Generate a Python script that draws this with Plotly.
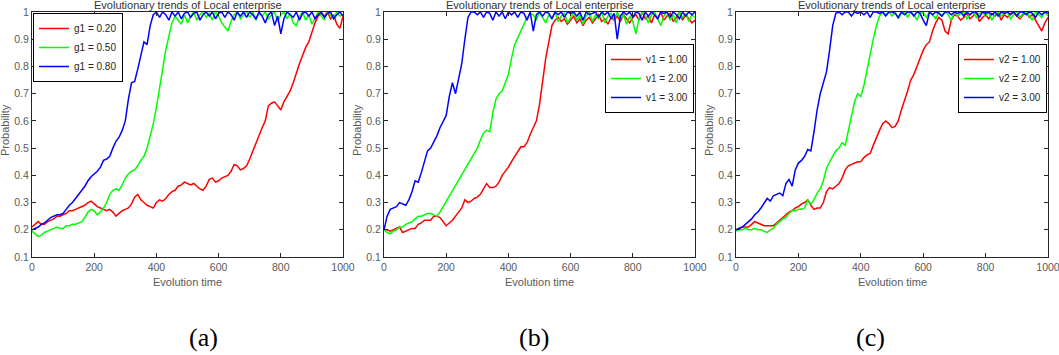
import plotly.graph_objects as go

# ---------------- data ----------------
TIME = list(range(0, 1001, 10))

LABELS_A = ["g1 = 0.20", "g1 = 0.50", "g1 = 0.80"]
LABELS_B = ["v1 = 1.00", "v1 = 2.00", "v1 = 3.00"]
LABELS_C = ["v2 = 1.00", "v2 = 2.00", "v2 = 3.00"]
CAPTIONS = ["(a)", "(b)", "(c)"]
X_TICKS = [0, 200, 400, 600, 800, 1000]
Y_TICKS = [0.1, 0.2, 0.3, 0.4, 0.5, 0.6, 0.7, 0.8, 0.9, 1.0]
Y_TICK_TEXT = ["0.1", "0.2", "0.3", "0.4", "0.5", "0.6", "0.7", "0.8", "0.9", "1"]

RED_A = [0.21, 0.22, 0.23, 0.22, 0.22, 0.23, 0.235, 0.24, 0.25, 0.25,
         0.255, 0.26, 0.27, 0.27, 0.275, 0.28, 0.285, 0.29, 0.30, 0.305,
         0.295, 0.285, 0.28, 0.275, 0.27, 0.275, 0.265, 0.25, 0.26, 0.27,
         0.275, 0.28, 0.295, 0.32, 0.33, 0.31, 0.30, 0.29, 0.285, 0.28,
         0.30, 0.31, 0.305, 0.315, 0.33, 0.34, 0.345, 0.36, 0.365, 0.375,
         0.37, 0.365, 0.37, 0.36, 0.35, 0.345, 0.36, 0.385, 0.39, 0.375,
         0.38, 0.39, 0.395, 0.40, 0.415, 0.44, 0.435, 0.42, 0.425, 0.435,
         0.46, 0.49, 0.52, 0.55, 0.575, 0.60, 0.655, 0.665, 0.67, 0.655,
         0.64, 0.67, 0.69, 0.71, 0.74, 0.78, 0.81, 0.84, 0.87, 0.89,
         0.93, 0.96, 0.985, 0.995, 0.985, 1.0, 0.975, 0.99, 0.955, 0.94,
         0.985]
GREEN_A = [0.195, 0.185, 0.175, 0.18, 0.19, 0.195, 0.20, 0.205, 0.21, 0.205,
           0.205, 0.215, 0.215, 0.22, 0.22, 0.225, 0.23, 0.245, 0.265, 0.275,
           0.27, 0.255, 0.265, 0.28, 0.30, 0.33, 0.345, 0.35, 0.345, 0.365,
           0.39, 0.405, 0.415, 0.42, 0.435, 0.455, 0.47, 0.50, 0.545, 0.59,
           0.65, 0.72, 0.79, 0.86, 0.91, 0.96, 0.985, 0.97, 0.955, 0.99,
           0.96, 0.985, 1.0, 0.97, 0.99, 1.0, 0.98, 0.995, 0.97, 1.0,
           0.985, 0.96, 0.945, 0.93, 0.965, 0.99, 1.0, 0.975, 0.99, 1.0,
           0.98, 1.0, 0.97, 0.995, 0.985, 1.0, 0.975, 0.99, 1.0, 0.965,
           0.99, 1.0, 0.975, 0.995, 0.96, 0.95, 0.985, 1.0, 0.97, 0.99,
           0.955, 0.98, 1.0, 0.985, 0.97, 1.0, 0.99, 0.975, 1.0, 0.985,
           0.99]
BLUE_A = [0.20, 0.205, 0.21, 0.22, 0.225, 0.235, 0.245, 0.25, 0.255, 0.255,
          0.26, 0.275, 0.29, 0.30, 0.315, 0.33, 0.345, 0.36, 0.38, 0.395,
          0.405, 0.415, 0.43, 0.455, 0.46, 0.47, 0.50, 0.525, 0.54, 0.565,
          0.60, 0.68, 0.74, 0.745, 0.79, 0.84, 0.89, 0.88, 0.95, 0.99,
          1.0, 0.98, 1.0, 0.99, 0.97, 1.0, 0.985, 1.0, 0.975, 0.995,
          1.0, 0.98, 0.995, 1.0, 0.97, 0.99, 1.0, 0.985, 1.0, 0.975,
          0.995, 1.0, 0.98, 1.0, 0.99, 0.97, 1.0, 0.985, 1.0, 0.98,
          1.0, 0.99, 0.975, 1.0, 0.985, 0.96, 0.99, 1.0, 0.95, 0.985,
          0.92, 0.975, 1.0, 0.99, 0.98, 1.0, 0.97, 0.995, 1.0, 0.985,
          1.0, 0.975, 0.99, 1.0, 0.98, 0.995, 1.0, 0.975, 0.99, 1.0,
          0.985]

RED_B = [0.20, 0.20, 0.195, 0.20, 0.205, 0.21, 0.19, 0.195, 0.20, 0.205,
         0.205, 0.22, 0.225, 0.235, 0.235, 0.235, 0.25, 0.25, 0.245, 0.23,
         0.215, 0.225, 0.235, 0.25, 0.265, 0.28, 0.31, 0.30, 0.305, 0.315,
         0.32, 0.33, 0.35, 0.37, 0.355, 0.355, 0.36, 0.375, 0.40, 0.415,
         0.43, 0.45, 0.47, 0.49, 0.505, 0.505, 0.52, 0.55, 0.575, 0.60,
         0.66, 0.75, 0.83, 0.89, 0.95, 0.97, 0.98, 0.965, 0.975, 0.955,
         0.97, 0.985, 0.96, 0.975, 0.95, 0.97, 0.98, 0.96, 0.975, 0.99,
         0.965, 0.975, 0.955, 0.98, 0.97, 0.985, 0.965, 0.99, 0.975, 0.96,
         0.98, 0.99, 0.97, 1.0, 0.975, 0.985, 0.96, 0.99, 0.975, 1.0,
         0.97, 0.985, 0.995, 0.965, 0.98, 1.0, 0.97, 0.99, 0.975, 0.96,
         0.97]
GREEN_B = [0.20, 0.19, 0.185, 0.195, 0.20, 0.21, 0.21, 0.22, 0.225, 0.23,
           0.24, 0.25, 0.25, 0.255, 0.26, 0.26, 0.255, 0.25, 0.265, 0.285,
           0.30, 0.32, 0.345, 0.36, 0.38, 0.40, 0.425, 0.44, 0.465, 0.48,
           0.50, 0.53, 0.555, 0.565, 0.56, 0.63, 0.68, 0.70, 0.71, 0.74,
           0.77, 0.83, 0.88, 0.905, 0.93, 0.955, 0.98, 0.995, 0.99, 0.97,
           1.0, 0.98, 0.96, 0.99, 0.975, 1.0, 0.965, 0.985, 0.995, 0.96,
           0.98, 1.0, 0.97, 0.99, 0.955, 0.985, 1.0, 0.965, 0.99, 0.975,
           1.0, 0.96, 0.985, 0.995, 0.97, 1.0, 0.975, 0.99, 0.955, 0.985,
           0.965, 0.92, 0.975, 1.0, 0.985, 0.96, 0.99, 1.0, 0.975, 0.95,
           0.985, 1.0, 0.97, 0.99, 0.96, 1.0, 0.98, 0.995, 0.965, 0.99,
           0.98]
BLUE_B = [0.20, 0.25, 0.275, 0.28, 0.285, 0.30, 0.295, 0.29, 0.31, 0.34,
          0.38, 0.375, 0.41, 0.45, 0.49, 0.50, 0.52, 0.545, 0.575, 0.595,
          0.62, 0.69, 0.74, 0.70, 0.76, 0.81, 0.90, 0.98, 1.0, 1.0,
          0.99, 1.0, 0.98, 1.0, 0.995, 0.97, 1.0, 0.985, 1.0, 0.975,
          1.0, 0.99, 1.0, 0.98, 1.0, 0.995, 0.97, 1.0, 0.93, 0.99,
          1.0, 0.985, 1.0, 0.995, 0.975, 1.0, 0.99, 1.0, 0.98, 1.0,
          0.995, 1.0, 0.985, 1.0, 0.97, 1.0, 0.99, 0.995, 1.0, 0.98,
          1.0, 0.99, 1.0, 0.975, 0.995, 0.90, 0.985, 1.0, 0.99, 1.0,
          0.98, 1.0, 0.995, 0.97, 1.0, 0.985, 1.0, 0.99, 0.975, 1.0,
          0.995, 1.0, 0.98, 1.0, 0.99, 0.975, 1.0, 0.985, 1.0, 0.99,
          1.0]

RED_C = [0.20, 0.205, 0.21, 0.21, 0.21, 0.22, 0.23, 0.225, 0.22, 0.215,
         0.215, 0.215, 0.215, 0.225, 0.235, 0.245, 0.255, 0.265, 0.27, 0.28,
         0.285, 0.295, 0.30, 0.31, 0.29, 0.275, 0.28, 0.28, 0.30, 0.34,
         0.355, 0.35, 0.36, 0.37, 0.39, 0.42, 0.435, 0.44, 0.445, 0.45,
         0.45, 0.465, 0.475, 0.48, 0.51, 0.54, 0.565, 0.59, 0.60, 0.59,
         0.575, 0.58, 0.60, 0.64, 0.68, 0.71, 0.75, 0.77, 0.80, 0.83,
         0.86, 0.88, 0.89, 0.93, 0.96, 0.98, 0.97, 0.93, 0.92, 0.97,
         0.99, 0.985, 0.97, 0.98, 0.995, 0.975, 0.985, 1.0, 0.965, 0.98,
         0.99, 0.975, 0.995, 0.985, 1.0, 0.97, 0.99, 0.98, 0.995, 1.0,
         0.985, 0.975, 0.99, 1.0, 0.98, 0.99, 0.97, 0.95, 0.93, 0.96,
         0.98]
GREEN_C = [0.195, 0.20, 0.20, 0.205, 0.20, 0.20, 0.205, 0.20, 0.20, 0.195,
           0.19, 0.20, 0.205, 0.22, 0.23, 0.24, 0.245, 0.26, 0.27, 0.27,
           0.275, 0.275, 0.28, 0.31, 0.295, 0.31, 0.335, 0.35, 0.38, 0.425,
           0.45, 0.47, 0.49, 0.50, 0.52, 0.51, 0.56, 0.61, 0.67, 0.70,
           0.69, 0.73, 0.79, 0.85, 0.90, 0.95, 0.985, 1.0, 0.99, 1.0,
           0.985, 1.0, 0.975, 0.995, 1.0, 0.98, 1.0, 0.99, 0.97, 1.0,
           0.995, 0.98, 1.0, 0.99, 0.975, 1.0, 0.985, 1.0, 0.99, 0.97,
           1.0, 0.985, 0.995, 1.0, 0.975, 0.99, 1.0, 0.98, 0.995, 1.0,
           0.985, 1.0, 0.97, 0.99, 1.0, 0.985, 0.995, 1.0, 0.975, 0.99,
           1.0, 0.98, 0.995, 1.0, 0.985, 0.97, 1.0, 0.99, 0.98, 1.0,
           0.985]
BLUE_C = [0.20, 0.205, 0.21, 0.22, 0.23, 0.24, 0.255, 0.265, 0.28, 0.30,
          0.315, 0.305, 0.325, 0.33, 0.335, 0.325, 0.37, 0.385, 0.36, 0.42,
          0.445, 0.455, 0.47, 0.495, 0.49, 0.56, 0.64, 0.70, 0.74, 0.78,
          0.86, 0.95, 0.995, 1.0, 0.99, 1.0, 1.0, 0.985, 1.0, 0.995,
          1.0, 0.99, 1.0, 0.98, 1.0, 1.0, 0.995, 1.0, 0.985, 1.0,
          1.0, 0.995, 0.98, 1.0, 0.99, 1.0, 1.0, 0.985, 1.0, 0.995,
          0.97, 0.95, 1.0, 0.99, 1.0, 0.995, 0.985, 1.0, 1.0, 0.99,
          1.0, 0.995, 1.0, 0.985, 1.0, 0.99, 1.0, 1.0, 0.98, 1.0,
          0.995, 1.0, 0.99, 1.0, 0.985, 1.0, 0.995, 1.0, 0.99, 1.0,
          0.985, 1.0, 1.0, 0.99, 1.0, 0.995, 0.98, 1.0, 0.99, 1.0,
          0.995]

# ---------------- layout geometry ----------------
W, H = 1059, 355
COLORS = ["#FF0000", "#00FF00", "#0000FF"]
X_DOMAINS = [(32 / W, 343 / W), (384 / W, 695 / W), (736 / W, 1048 / W)]
Y_DOMAIN = (1 - 257 / H, 1 - 12 / H)
CAPTION_X = [204 / W, 534 / W, 870 / W]

panels = [
    (LABELS_A, [RED_A, GREEN_A, BLUE_A]),
    (LABELS_B, [RED_B, GREEN_B, BLUE_B]),
    (LABELS_C, [RED_C, GREEN_C, BLUE_C]),
]

fig = go.Figure()
legend_ids = ["legend", "legend2", "legend3"]
for p, (labels, series) in enumerate(panels):
    sfx = "" if p == 0 else str(p + 1)
    for name, vals, col in zip(labels, series, COLORS):
        fig.add_trace(go.Scatter(
            x=TIME, y=vals, mode="lines", name=name,
            line=dict(color=col, width=1.5),
            xaxis="x" + sfx, yaxis="y" + sfx,
            legend=legend_ids[p],
        ))

axis_common = dict(
    showline=True, linecolor="#262626", linewidth=1, mirror="ticks",
    ticks="inside", ticklen=4, tickcolor="#262626", tickwidth=1,
    showgrid=False, zeroline=False, automargin=False,
    ticklabeloverflow="allow",
    tickfont=dict(family="Liberation Sans, Arial", size=10.5, color="#595959"),
)

layout = dict(
    width=W, height=H,
    margin=dict(l=0, r=0, t=0, b=0, autoexpand=False),
    paper_bgcolor="white", plot_bgcolor="white",
    showlegend=True,
    font=dict(family="Liberation Sans, Arial", size=10, color="#262626"),
)
annotations = []
for p in range(3):
    sfx = "" if p == 0 else str(p + 1)
    layout["xaxis" + sfx] = dict(
        axis_common, domain=list(X_DOMAINS[p]), anchor="y" + sfx,
        range=[0, 1000], tickvals=X_TICKS,
    )
    layout["yaxis" + sfx] = dict(
        axis_common, domain=list(Y_DOMAIN), anchor="x" + sfx,
        range=[0.1, 1.0], tickvals=Y_TICKS, ticktext=Y_TICK_TEXT,
    )
    x0, x1 = X_DOMAINS[p]
    xc = (x0 + x1) / 2
    annotations.append(dict(
        text="Evolutionary trends of Local enterprise", x=xc, y=1 - 5.5 / H,
        xref="paper", yref="paper", xanchor="center", yanchor="middle",
        showarrow=False, font=dict(family="Liberation Sans, Arial", size=11, color="#333333"),
    ))
    annotations.append(dict(
        text="Evolution time", x=xc, y=1 - 282 / H,
        xref="paper", yref="paper", xanchor="center", yanchor="middle",
        showarrow=False, font=dict(family="Liberation Sans, Arial", size=11, color="#595959"),
    ))
    annotations.append(dict(
        text="Probability", x=x0 - 27 / W, y=1 - 130 / H, textangle=-90,
        xref="paper", yref="paper", xanchor="center", yanchor="middle",
        showarrow=False, font=dict(family="Liberation Sans, Arial", size=11, color="#595959"),
    ))
    annotations.append(dict(
        text=CAPTIONS[p], x=CAPTION_X[p], y=1 - 337 / H,
        xref="paper", yref="paper", xanchor="center", yanchor="middle",
        showarrow=False, font=dict(family="Liberation Serif, Times New Roman, serif", size=26, color="#000000"),
    ))

legend_style = dict(
    bgcolor="white", bordercolor="#000000", borderwidth=1,
    font=dict(family="Liberation Sans, Arial", size=10, color="#262626"),
    xref="paper", yref="paper", tracegroupgap=0,
)
layout["legend"] = dict(legend_style, x=33 / W, y=1 - 13 / H, xanchor="left", yanchor="top")
layout["legend2"] = dict(legend_style, x=694 / W, y=1 - 44 / H, xanchor="right", yanchor="top")
layout["legend3"] = dict(legend_style, x=1047 / W, y=1 - 44 / H, xanchor="right", yanchor="top")
layout["annotations"] = annotations

fig.update_layout(**layout)
fig.write_html(
    "out.html",
    config={"displayModeBar": False},
    post_script="document.documentElement.style.margin='0';document.body.style.margin='0';",
)
